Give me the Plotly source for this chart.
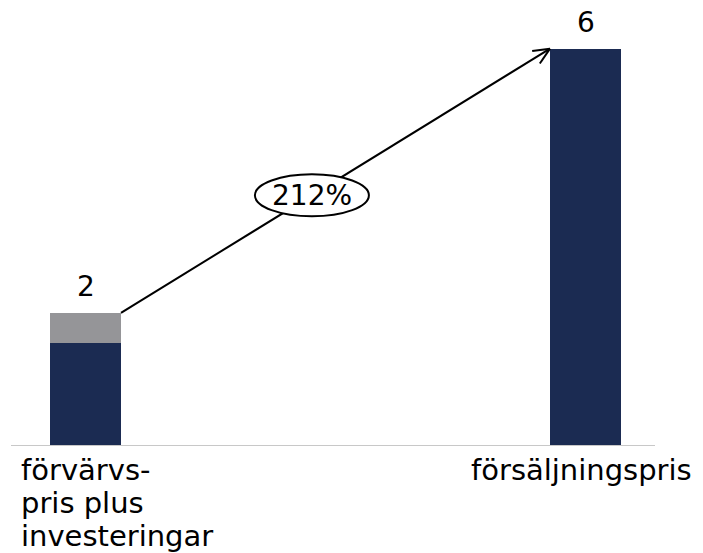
import math
import plotly.graph_objects as go

# Data
categories = ["förvärvspris plus investeringar", "försäljningspris"]
tick_labels = ["förvärvs-<br>pris plus<br>investeringar", "försäljningspris"]
base_values = [1.55, 6]        # navy part
extra_values = [0.45, 0]       # grey part (investeringar)
total_labels = ["2", "6"]
change_label = "212%"

NAVY = "#1b2b52"
GREY = "#959598"
FONT = "DejaVu Sans"
FSIZE = 28
LABEL_SIZE = 29
BAR_W = 0.142

W, H = 703, 553
MARGIN = dict(l=11, r=48, t=9, b=108)
X_RANGE = [-0.149, 1.139]
Y_RANGE = [0, 6.6]

totals = [b + e for b, e in zip(base_values, extra_values)]

fig = go.Figure()
fig.add_trace(go.Bar(x=categories, y=base_values, marker=dict(color=NAVY, line=dict(width=0)),
                     width=BAR_W, hoverinfo="skip"))
fig.add_trace(go.Bar(x=categories, y=extra_values, marker=dict(color=GREY, line=dict(width=0)),
                     width=BAR_W, hoverinfo="skip"))

# connecting line from top of first bar to top of second bar
x_start, y_start = 0 + BAR_W / 2, totals[0]
x_end, y_end = 1 - BAR_W / 2, totals[1]
fig.add_shape(type="line", xref="x", yref="y", x0=x_start, y0=y_start, x1=x_end, y1=y_end,
              line=dict(color="black", width=2), layer="above")

# open arrow head (two short legs) at the end of the line, sized in pixels
px_per_x = (W - MARGIN["l"] - MARGIN["r"]) / (X_RANGE[1] - X_RANGE[0])
px_per_y = (H - MARGIN["t"] - MARGIN["b"]) / (Y_RANGE[1] - Y_RANGE[0])
back = math.atan2(-(y_end - y_start) * px_per_y, -(x_end - x_start) * px_per_x)
leg_len, spread = 18, math.radians(24)
for s in (-1, 1):
    a = back + s * spread
    fig.add_shape(type="line", xref="x", yref="y", xsizemode="pixel", ysizemode="pixel",
                  xanchor=x_end, yanchor=y_end,
                  x0=0, y0=0, x1=leg_len * math.cos(a), y1=leg_len * math.sin(a),
                  line=dict(color="black", width=2), layer="above")

# ellipse with the percentage on the line
t = 0.445
ex = x_start + t * (x_end - x_start)
ey = y_start + t * (y_end - y_start)
fig.add_shape(type="circle", xref="x", yref="y", xsizemode="pixel", ysizemode="pixel",
              xanchor=ex, yanchor=ey, x0=-57, x1=57, y0=-21, y1=21,
              fillcolor="white", line=dict(color="black", width=2), layer="above")
fig.add_annotation(x=ex, y=ey, xref="x", yref="y", text=change_label, showarrow=False,
                   font=dict(family=FONT, size=FSIZE, color="black"))

# value labels above bars
for cat, tot, lab in zip(categories, totals, total_labels):
    fig.add_annotation(x=cat, y=tot, xref="x", yref="y", text=lab, showarrow=False,
                       yanchor="bottom", yshift=8, font=dict(family=FONT, size=FSIZE, color="black"))

# category labels under the axis, one annotation per line for tighter spacing
line_gap = 33
for i, line in enumerate(tick_labels[0].split("<br>")):
    fig.add_annotation(x=categories[0], y=0, xref="x", yref="y", text=line,
                       showarrow=False, xanchor="left", yanchor="middle",
                       xshift=-67, yshift=-(25 + i * line_gap),
                       font=dict(family=FONT, size=LABEL_SIZE, color="black"))
fig.add_annotation(x=categories[1], y=0, xref="x", yref="y", text=tick_labels[1],
                   showarrow=False, xanchor="center", yanchor="middle",
                   xshift=-4, yshift=-25, font=dict(family=FONT, size=LABEL_SIZE, color="black"))

fig.update_layout(
    barmode="stack",
    width=W, height=H,
    margin=MARGIN,
    plot_bgcolor="white", paper_bgcolor="white",
    showlegend=False,
    xaxis=dict(type="category", range=X_RANGE, showticklabels=False,
               showgrid=False, zeroline=False, showline=True, linecolor="#c8c8c8",
               linewidth=1, ticks=""),
    yaxis=dict(range=Y_RANGE, visible=False, showgrid=False, zeroline=False),
)

fig.write_html("out.html")
